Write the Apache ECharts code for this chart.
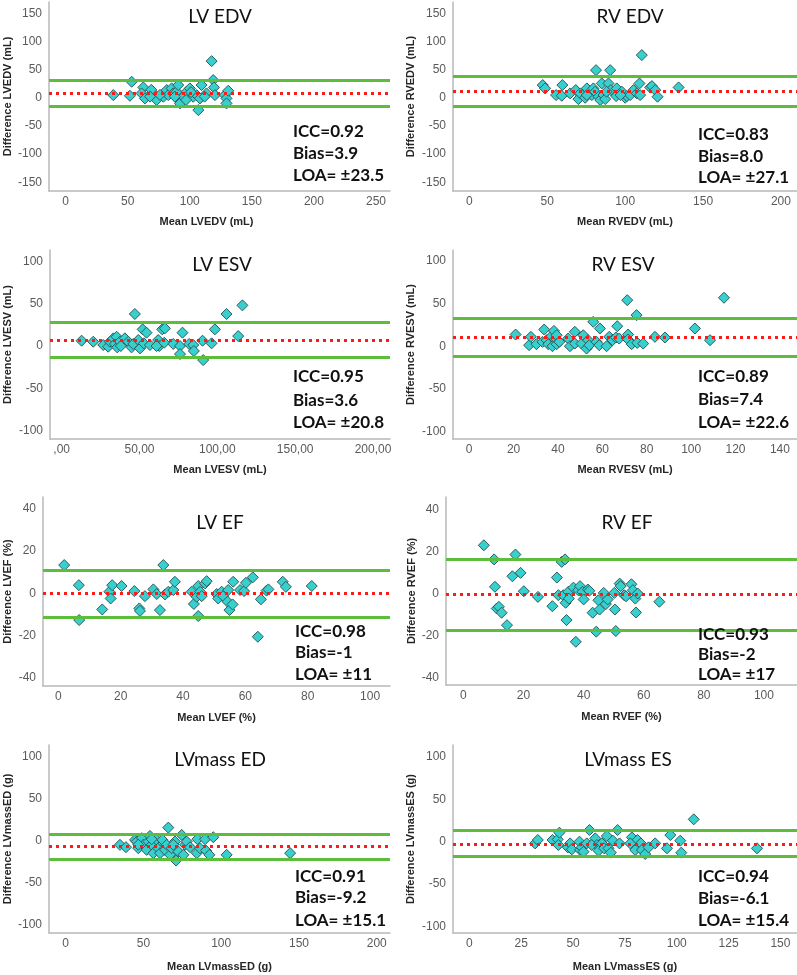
<!DOCTYPE html>
<html><head><meta charset="utf-8">
<script src="https://cdn.jsdelivr.net/npm/echarts@6/dist/echarts.min.js"></script>
<style>html,body{margin:0;padding:0;background:#fff}#c{width:797px;height:975px}</style>
</head><body><div id="c"></div>
<script>
// ---------- DATA ----------
const lvedvX = [38.4,53.2,51.8,62.6,61.2,63.9,72,73.3,78.7,81.4,82.7,85.4,86.7,89.4,90.7,92.1,92.1,94.7,97.4,100.1,102.8,105.5,106.9,108.2,109.5,113.5,117.6,118.9,119.5,120.3,128.3,129.6,131,129.6,101,76,69,68,97,88,112];
const lvedvY = [4.7,28.4,3.5,18.3,7.7,-1.2,4.7,-4,1.8,13.6,4.7,16.6,7.7,10.7,22.5,-4.1,-10,1.8,10.7,16.6,1.8,4.7,-21.9,-1.2,22.5,7.7,65,31.4,18.3,4.7,4.7,-1.2,12.4,-10,10,5,14,2,-4,2,2];

const rvedvX = [47.1,48.6,55.7,59.7,59.3,64.7,68.3,70,71.2,74.3,75.4,78.6,79.6,80.7,81.3,82.9,84,85,86.1,87.2,89.3,90.4,90.8,94.2,94.6,97.9,100,101.1,103.2,105.4,107.5,109.2,110.7,109.6,116.1,117.2,119.3,120.8,134.3,75.4,88,97];
const rvedvY = [22.5,16.6,4.7,22.5,3.5,7.7,13.6,-2.4,7.7,0,16.6,4.7,16.6,10.7,49,1.8,-4,25.4,4.7,-2.4,25.4,49,13.6,3,16.6,10.7,0,3,4.7,13.6,7.7,25.4,75.7,4.7,18.3,20.7,13.6,1.8,18.3,4.7,10.7,4.7];

const lvesvX = [12.8,20.3,26.7,29.9,31,33.2,34.2,35.3,35.7,37.4,40.6,42.8,44.9,46,47,49.2,50.3,52,52.8,54.5,56.7,62,62.7,64.6,66.3,65.9,71.7,76,76,77.6,81.9,84.5,84.9,90.5,90.9,96.3,98.4,105.9,113.4,116.1,38,60.9];
const lvesvY = [6.3,5.1,1.2,-0.8,5.1,9.1,2.4,11,-1.6,5.1,9.1,5.1,-1.6,2.4,37.9,7.1,-2.8,19.7,3.2,15.8,1.2,7.1,0,19.7,20.9,3.9,2.4,0,-9.5,15.8,2.4,1.2,-5.9,6.3,-16.6,3.2,19.7,37.9,11.8,48.1,0,0];

const rvesvX = [20.9,27,27.8,30.3,33,33.8,34.9,35.6,37.1,37.5,38.2,39,39.4,39.4,40.6,44.6,45.4,47.6,47.6,50.6,51.4,52.9,53.6,54.1,55.9,57.4,58.6,58.9,61.9,63.1,64.6,66.1,66.7,67.6,71.2,71.6,71.6,73.2,75.4,75.7,78.4,83.7,88.2,101.7,108.5,114.8];
const rvesvY = [13.7,1.2,11,2.4,5.1,19.6,7.1,2.4,11.8,0,18,9,12.9,2.4,5.1,9,0,16.9,3.1,3.1,12.9,-2.7,7.1,1.2,28.6,5.1,1.2,20.8,0,11,7.1,10.2,23.5,9,54.1,13.7,7.8,2.4,36.5,3.9,3.1,11,10.2,20.8,7.1,56.9];

const lvefX = [1.9,6.6,6.7,14.1,16.4,16.8,17.3,20.3,24.4,26,26.2,27.8,30.5,31.6,32.6,33.7,34.2,35.3,36.9,37.4,42.8,43.5,44.4,44.9,44.9,45.5,46,47.1,47.6,50.8,51.3,52.4,52.9,54.3,54.9,54.5,56.1,55.9,58.3,59.6,60.2,62.4,64,65,66.8,67.4,72,73,81.3];
const lvefY = [13.4,3.9,-12.6,-7.6,0.8,-2.4,3.9,3.5,1.1,-7.1,-8.3,-1.3,1.9,-0.3,-7.9,13.4,-0.5,0.8,1.6,5.5,0.8,-5,-1.6,3.5,-10.7,0.8,-1.3,4.7,5.8,-0.3,-2.4,0.8,-1.3,-3.9,-7.9,1.6,5.5,-5.2,1.6,1.1,5,7.6,-20.5,-2.8,1.3,1.9,5.5,3.1,3.5];

const rvefX = [6.8,10.2,10.5,11.1,11.8,12.7,14.5,16.3,17.3,19,20.1,24.8,29.6,31.1,31.6,32.7,33.8,33.2,34,34.3,34.9,35.1,36.6,37.4,38.2,38.8,39.6,40,41.4,41.9,43,44.2,44.9,45.3,46.7,47.4,48,50.4,50.2,50.7,52,52.3,53.5,54.1,55.9,56.4,57.2,57.4,58,65.2];
const rvefY = [22.9,16.2,3.2,-7.1,-6.3,-9.1,-15,8.2,18.5,9.8,1.1,-1.6,-6,7.6,-0.8,15,16.2,-0.8,-4.4,-12.6,0.8,-2.4,2.8,-22.9,1.6,3.5,0.8,-2.8,1.9,1.3,-9.1,-18.1,-3.2,-7.6,0.3,-5,-2.8,-7.6,0.3,-17.8,4.7,3.5,-0.8,-1.3,4.4,1.6,-2.4,-9,0,-3.9];

const lvmassEdX = [34.9,38.8,44.6,45.7,46.7,48.9,49.9,52.1,53.2,54.2,55.3,56.4,58.5,59.5,60.7,62.8,62.2,63.9,65,66,67.1,68.2,70.3,71,72.5,74.6,75.7,76.8,77.8,80,84.3,84.7,86.4,89.6,90.2,92.4,94.9,103.5,144.3,46.7,55.3,69.2];
const lvmassEdY = [-5.1,-7.9,0.8,-1.2,-9.1,2.8,-5.1,-11.1,-1.2,5.5,-5.1,-15,0.8,-9.1,-15,-3.2,0.8,-11.1,-5.1,15.4,-17,-9.1,-1.2,-23.8,-13.1,6.7,-17,-5.1,-1.2,-7.9,-15,1.6,-9.1,1.6,-11.9,-17,4,-17,-15,-5,1.6,-5];

const lvmassEsX = [31.7,33,40.1,42.6,43.4,42.9,47.5,48.6,49.4,53.1,53.4,54.2,55,56.6,57.9,60.7,61.5,62.3,63.9,65,66.3,67.1,68.2,69.2,71.5,72.4,78.4,80,81.1,82.7,83.2,84.8,86.4,89.6,95.3,96.9,101.7,102.2,108.2,138.7,59,77.6];
const lvmassEsY = [-2,2,2,2.7,10.6,-3.9,-6.7,-2,-9,0,-9.8,-6.7,-11.8,-2,13.7,3.9,-3.9,-10.6,-2,-7.8,6.7,-7.8,-12.9,1.2,13.7,-2,5.1,-9.8,2,-2,-9.8,-14.5,-6.7,-2,-7.8,7.8,1.2,-12.9,26.3,-7.8,-3.9,-2];

const panelTitles = ['LV EDV','RV EDV','LV ESV','RV ESV','LV EF','RV EF','LVmass ED','LVmass ES'];
const xNames = ['Mean LVEDV (mL)','Mean RVEDV (mL)','Mean LVESV (mL)','Mean RVESV (mL)','Mean LVEF (%)','Mean RVEF (%)','Mean LVmassED (g)','Mean LVmassES (g)'];
const yNames = ['Difference LVEDV (mL)','Difference RVEDV (mL)','Difference LVESV (mL)','Difference RVESV (mL)','Difference LVEF (%)','Difference RVEF (%)','Difference LVmassED (g)','Difference LVmassES (g)'];
const xTicks = [[0,50,100,150,200,250],[0,50,100,150,200],[0,50,100,150,200],[0,20,40,60,80,100,120,140],[0,20,40,60,80,100],[0,20,40,60,80,100],[0,50,100,150,200],[0,25,50,75,100,125,150]];
const yTicks = [[-150,-100,-50,0,50,100,150],[-150,-100,-50,0,50,100,150],[-100,-50,0,50,100],[-100,-50,0,50,100],[-40,-20,0,20,40],[-40,-20,0,20,40],[-100,-50,0,50,100],[-100,-50,0,50,100]];
const upperLOA = [31, 38.5, 27.6, 33.3, 11, 16.1, 7.9, 12.9];
const biasLine = [7.7, 12.4, 7.1, 10.2, 0, -0.5, -7.1, -2.7];
const lowerLOA = [-16, -16, -13.8, -11.8, -11.3, -17.4, -22.2, -17.6];
const statICC = ['ICC=0.92','ICC=0.83','ICC=0.95','ICC=0.89','ICC=0.98','ICC=0.93','ICC=0.91','ICC=0.94'];
const statBias = ['Bias=3.9','Bias=8.0','Bias=3.6','Bias=7.4','Bias=-1','Bias=-2','Bias=-9.2','Bias=-6.1'];
const statLOA = ['LOA= \u00B123.5','LOA= \u00B127.1','LOA= \u00B120.8','LOA= \u00B122.6','LOA= \u00B111','LOA= \u00B117','LOA= \u00B115.1','LOA= \u00B115.4'];

const seriesX = [lvedvX, rvedvX, lvesvX, rvesvX, lvefX, rvefX, lvmassEdX, lvmassEsX];
const seriesY = [lvedvY, rvedvY, lvesvY, rvesvY, lvefY, rvefY, lvmassEdY, lvmassEsY];

// ---------- LAYOUT ----------
const layout = [
  {l:49, t:2, w:341, h:189, xmin:-13.4, xmax:261.3, ymin:-165.6, ymax:170, yGap:36, xGap:25, xPad:[0,26,0,0], tx:220, ty:17, sx:293, sy:[132,154,176]},
  {l:453,t:2, w:344, h:189, xmin:-10.5, xmax:210.3, ymin:-165.6, ymax:170, yGap:37, xGap:25, xPad:0, tx:630, ty:17, sx:698, sy:[135,157,178]},
  {l:50, t:250,w:340, h:189, xmin:-7.5, xmax:210.9, ymin:-110, ymax:113.6, yGap:37, xGap:25, xPad:0, tx:222, ty:265, sx:293, sy:[377,401,423]},
  {l:453,t:250,w:344, h:189, xmin:-7.3, xmax:147.7, ymin:-109, ymax:113, yGap:37, xGap:25, xPad:0, tx:623, ty:265, sx:698, sy:[377,400,423]},
  {l:43, t:497,w:347, h:189, xmin:-4.9, xmax:106.4, ymin:-43.8, ymax:45.6, yGap:30, xGap:26, xPad:0, tx:220, ty:523, sx:295, sy:[632,653,675]},
  {l:446,t:497,w:351, h:188, xmin:-5.8, xmax:111, ymin:-43.4, ymax:45.8, yGap:28, xGap:26, xPad:0, tx:627, ty:523, sx:698, sy:[635,655,675]},
  {l:49, t:745,w:341, h:188, xmin:-10.7, xmax:208.5, ymin:-110, ymax:113.7, yGap:36, xGap:28, xPad:0, tx:220, ty:760, sx:295, sy:[877,898,921]},
  {l:453,t:745,w:344, h:188, xmin:-7.9, xmax:158, ymin:-107.5, ymax:113.8, yGap:37, xGap:28, xPad:0, tx:628, ty:760, sx:698, sy:[877,899,921]}
];

const grids = [], xAxes = [], yAxes = [], series = [], graphics = [];
const axisLineStyle = {color:'#b8b8b8', width:1.5};
for (let i = 0; i < 8; i++) {
  const L = layout[i];
  grids.push({left:L.l, top:L.t, width:L.w, height:L.h, containLabel:false});
  xAxes.push({
    type:'value', gridIndex:i, min:L.xmin, max:L.xmax,
    axisLine:{show:true, onZero:false, lineStyle:axisLineStyle},
    axisTick:{show:false}, splitLine:{show:false},
    axisLabel:{customValues:xTicks[i], color:'#5a5a5a', fontSize:12, fontFamily:'Liberation Sans', margin:5,
      formatter: i === 2 ? (v => (v === 0 ? ',00' : v + ',00')) : (v => String(v))},
    name:xNames[i], nameLocation:'middle', nameGap:L.xGap,
    nameTextStyle:{fontWeight:'bold', fontSize:11, color:'#262626', fontFamily:'Liberation Sans', padding:L.xPad}
  });
  yAxes.push({
    type:'value', gridIndex:i, min:L.ymin, max:L.ymax,
    axisLine:{show:true, onZero:false, lineStyle:axisLineStyle},
    axisTick:{show:false}, splitLine:{show:false},
    axisLabel:{customValues:yTicks[i], color:'#5a5a5a', fontSize:12, fontFamily:'Liberation Sans', margin:7},
    name:yNames[i], nameLocation:'middle', nameGap:L.yGap, nameRotate:90,
    nameTextStyle:{fontWeight:'bold', fontSize:11, color:'#262626', fontFamily:'Liberation Sans'}
  });
  const pts = seriesX[i].map((x, k) => [x, seriesY[i][k]]);
  series.push({
    type:'scatter', xAxisIndex:i, yAxisIndex:i, data:pts,
    symbol:'diamond', symbolSize:[11,11],
    itemStyle:{color:'#38CFCF', borderColor:'#2E5C5C', borderWidth:1, opacity:1},
    z:3,
    markLine:{
      silent:true, symbol:'none', label:{show:false}, animation:false,
      data:[
        {yAxis:upperLOA[i], lineStyle:{color:'#5CBE3A', width:3, type:'solid'}},
        {yAxis:lowerLOA[i], lineStyle:{color:'#5CBE3A', width:3, type:'solid'}},
        {yAxis:biasLine[i], lineStyle:{color:'#FF1A1A', width:3, type:[3,4]}}
      ]
    }
  });
  graphics.push({type:'text', x:L.tx, y:L.ty, style:{text:panelTitles[i], fill:'#111', font:'19px Lato', textAlign:'center', textVerticalAlign:'middle'}, z:10});
  const st = [statICC[i], statBias[i], statLOA[i]];
  for (let k = 0; k < 3; k++) {
    graphics.push({type:'text', x:L.sx, y:L.sy[k], style:{text:st[k], fill:'#111', font:'bold 17px Lato', textAlign:'left', textVerticalAlign:'middle'}, z:10});
  }
}

const chart = echarts.init(document.getElementById('c'), null, {renderer:'canvas'});
chart.setOption({
  backgroundColor:'#ffffff',
  animation:false,
  grid:grids, xAxis:xAxes, yAxis:yAxes, series:series, graphic:graphics
});
</script></body></html>
